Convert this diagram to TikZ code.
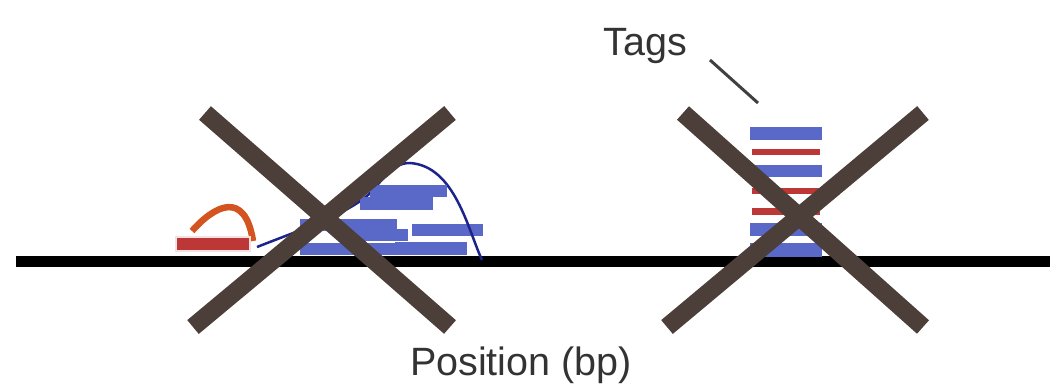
\documentclass[tikz,border=0pt]{standalone}
\usepackage{fontspec}
\setmainfont{Liberation Sans}
\definecolor{tagblue}{RGB}{90,104,200}
\definecolor{tagred}{RGB}{190,55,55}
\definecolor{peakorange}{RGB}{212,84,32}
\definecolor{peakblue}{RGB}{28,36,140}
\definecolor{crossbrown}{RGB}{76,62,56}
\tikzset{
  bluetag/.style={fill=tagblue},
  redtag/.style={fill=tagred},
  crossarm/.style={draw=crossbrown, line width=18pt},
  label text/.style={font=\fontsize{39.5}{40}\selectfont, text=black!80, inner sep=0pt, anchor=base},
}
\begin{document}
\begin{tikzpicture}[x=1pt, y=-1pt]
  \useasboundingbox (0,0) rectangle (1063,391);

  % genome axis
  \draw[line width=11pt, black] (16,261) -- (1050,261);

  % small red peak on the left
  \draw[peakorange, line width=6.5pt] (192,231) .. controls (215,205) and (245,190) .. (253,241);
  \fill[redtag, draw=white!85!tagred, line width=1.5pt] (176,237) rectangle (250,251);

  % broad blue peak: overlapping tags with the density curve threaded through
  \fill[bluetag] (412,224) rectangle (483,236);
  \draw[peakblue, line width=2.5pt] (257,247) .. controls (300,230) and (345,215) .. (368,195)
        .. controls (385,178) and (392,163) .. (410,163)
        .. controls (455,166) and (468,230) .. (482,260);
  \foreach \xa/\ya/\xb/\yb in {370/185/447/197, 360/197/433/210, 300/219/397/231,
                               345/229/408/241, 300/243/395/255, 395/242/467/255}
    \fill[bluetag] (\xa,\ya) rectangle (\xb,\yb);

  % stacked duplicate tags on the right
  \foreach \ya/\yb in {127/140, 165/177, 223/236, 243/257}
    \fill[bluetag] (750,\ya) rectangle (822,\yb);
  \foreach \ya/\yb in {149/155, 188/194, 208/215}
    \fill[redtag] (752,\ya) rectangle (820,\yb);

  % crosses
  \draw[crossarm] (205,113) -- (450,327);
  \draw[crossarm] (450,113) -- (193,327);
  \draw[crossarm] (683,113) -- (923,327);
  \draw[crossarm] (923,113) -- (667,327);

  % labels
  \node[label text] (tags) at (645,55) {Tags};
  \coordinate (tagA) at (710,60);
  \coordinate (tagB) at (758,103);
  \draw[black!75, line width=3pt] (tagA) -- (tagB);
  \node[label text] (pos) at (521,375) {Position (bp)};
\end{tikzpicture}
\end{document}
